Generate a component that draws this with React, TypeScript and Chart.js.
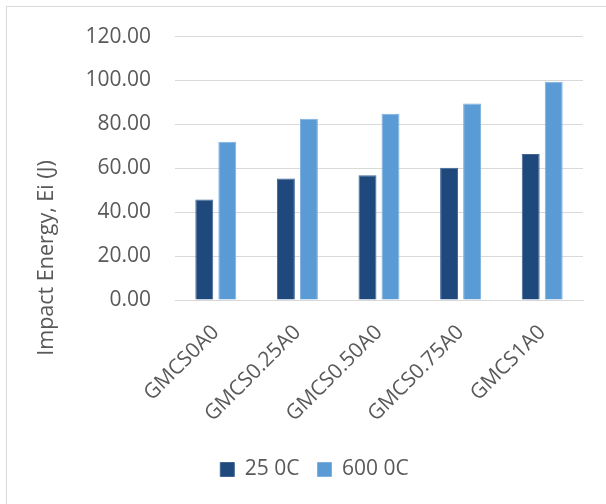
import React, { useEffect, useRef } from "react";
import { Chart, registerables } from "chart.js";

Chart.register(...registerables);

const categories = ["GMCS0A0", "GMCS0.25A0", "GMCS0.50A0", "GMCS0.75A0", "GMCS1A0"];
const series25C = [45.8, 55.3, 56.8, 60.2, 66.5];
const series600C = [72.1, 82.6, 84.8, 89.5, 99.4];
const seriesNames = ["25 0C", "600 0C"];
const yTitle = "Impact Energy, Ei (J)";

const FONT = "'Open Sans', sans-serif";
const TEXT = "#595959";
const GRID = "#d9d9d9";

// Vertical axis title, centred on the whole chart frame rather than the plot area
const sideTitle = {
  id: "sideTitle",
  afterDraw(chart: any) {
    const { ctx } = chart;
    ctx.save();
    ctx.translate(47, 258);
    ctx.rotate(-Math.PI / 2);
    ctx.font = `21.5px ${FONT}`;
    ctx.fillStyle = TEXT;
    ctx.textAlign = "center";
    ctx.textBaseline = "middle";
    ctx.fillText(yTitle, 0, 0);
    ctx.restore();
  },
};

export default function App() {
  const ref = useRef<HTMLCanvasElement>(null);

  useEffect(() => {
    if (!ref.current) return;
    const chart = new Chart(ref.current, {
      type: "bar",
      data: {
        labels: categories,
        datasets: [
          {
            label: seriesNames[0],
            data: series25C,
            backgroundColor: "#1f497d",
            borderColor: "#3f6595",
            borderWidth: 1,
            categoryPercentage: 0.564,
            barPercentage: 0.78,
          },
          {
            label: seriesNames[1],
            data: series600C,
            backgroundColor: "#5b9bd5",
            borderColor: "#7db0e0",
            borderWidth: 1,
            categoryPercentage: 0.564,
            barPercentage: 0.78,
          },
        ],
      },
      plugins: [sideTitle],
      options: {
        responsive: false,
        animation: false,
        layout: { padding: { left: 46, right: 23, top: 36, bottom: 14 } },
        plugins: {
          legend: {
            position: "bottom",
            labels: {
              font: { family: FONT, size: 21 },
              color: TEXT,
              boxWidth: 14,
              boxHeight: 14,
              padding: 18,
            },
          },
          tooltip: { enabled: false },
        },
        scales: {
          x: {
            grid: { display: false, drawTicks: false },
            border: { color: GRID, width: 1 },
            ticks: {
              font: { family: FONT, size: 21 },
              color: TEXT,
              minRotation: 45,
              maxRotation: 45,
              padding: 20,
            },
            afterFit: (s: any) => {
              s.height = 141;
            },
          },
          y: {
            min: 0,
            max: 120,
            grid: { color: GRID, lineWidth: 1, drawTicks: false },
            border: { display: false },
            ticks: {
              stepSize: 20,
              font: { family: FONT, size: 21 },
              color: TEXT,
              padding: 24,
              callback: (v: any) => Number(v).toFixed(2),
            },
            afterFit: (s: any) => {
              s.width = 129;
            },
          },
        },
      },
    });
    return () => chart.destroy();
  }, []);

  return (
    <div style={{ position: "fixed", left: 0, top: 0, width: 606, height: 504, background: "#fff" }}>
      <div
        style={{
          position: "absolute",
          left: 6,
          top: 6,
          width: 640,
          height: 540,
          borderLeft: "1px solid #d9d9d9",
          borderTop: "1px solid #d9d9d9",
        }}
      />
      <canvas ref={ref} width={606} height={504} style={{ position: "absolute", left: 0, top: 0 }} />
    </div>
  );
}
